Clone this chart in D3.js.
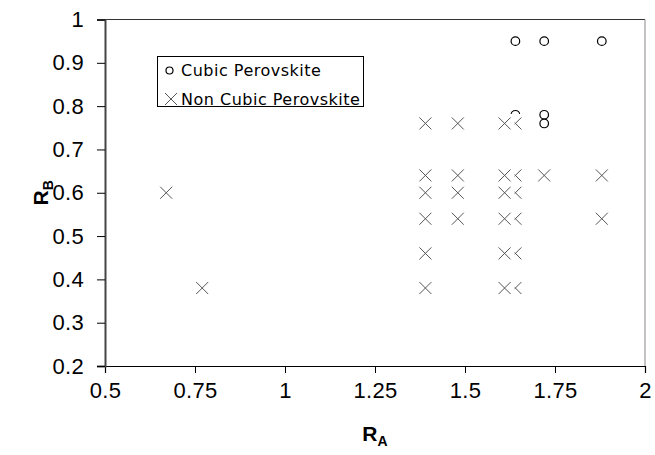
<!DOCTYPE html>
<html>
<head>
<meta charset="utf-8">
<script src="https://cdn.jsdelivr.net/npm/d3@7"></script>
<style>
  html, body { margin: 0; padding: 0; background: #fff; }
  svg { display: block; }
</style>
</head>
<body>
<svg id="chart" width="655" height="455"></svg>
<script>
// ---- Data ----
const cubicRA = [1.64, 1.72, 1.88, 1.64, 1.72, 1.72];
const cubicRB = [0.95, 0.95, 0.95, 0.78, 0.78, 0.76];

const nonCubicRA = [0.67, 0.77,
  1.64, 1.64, 1.64, 1.64, 1.64, 1.64,
  1.39, 1.39, 1.39, 1.39, 1.39, 1.39,
  1.48, 1.48, 1.48, 1.48,
  1.61, 1.61, 1.61, 1.61, 1.61, 1.61,
  1.72,
  1.88, 1.88];
const nonCubicRB = [0.60, 0.38,
  0.76, 0.64, 0.60, 0.54, 0.46, 0.38,
  0.76, 0.64, 0.60, 0.54, 0.46, 0.38,
  0.76, 0.64, 0.60, 0.54,
  0.76, 0.64, 0.60, 0.54, 0.46, 0.38,
  0.64,
  0.64, 0.54];

const xTicks = [0.5, 0.75, 1, 1.25, 1.5, 1.75, 2];
const yTicks = [0.2, 0.3, 0.4, 0.5, 0.6, 0.7, 0.8, 0.9, 1];
const seriesNames = ["Cubic Perovskite", "Non Cubic Perovskite"];

// ---- Layout ----
const svg = d3.select("#chart");
const pLeft = 105, pRight = 645, pTop = 19.5, pBottom = 366;
const x = d3.scaleLinear().domain([0.5, 2]).range([pLeft, pRight]);
const y = d3.scaleLinear().domain([0.2, 1]).range([pBottom, pTop]);

// frame (top & right)
svg.append("line").attr("x1", pLeft).attr("x2", pRight).attr("y1", pTop).attr("y2", pTop)
  .attr("stroke", "#333").attr("stroke-width", 1);
svg.append("line").attr("x1", pRight).attr("x2", pRight).attr("y1", pTop).attr("y2", pBottom)
  .attr("stroke", "#888").attr("stroke-width", 1);

// axes
const tickFont = "'Liberation Sans', Arial, sans-serif";
const xAxis = d3.axisBottom(x).tickValues(xTicks).tickSize(7).tickPadding(9)
  .tickFormat(d => String(d));
const yAxis = d3.axisLeft(y).tickValues(yTicks).tickSize(8).tickPadding(13)
  .tickFormat(d => String(+d.toFixed(1)));

const gx = svg.append("g").attr("transform", `translate(0,${pBottom})`).call(xAxis);
const gy = svg.append("g").attr("transform", `translate(${pLeft},0)`).call(yAxis);

gx.select(".domain").attr("stroke", "#000").attr("stroke-width", 1.2);
gy.select(".domain").attr("stroke", "#444").attr("stroke-width", 2);
[gx, gy].forEach(g => {
  g.selectAll(".tick line").attr("stroke", "#000").attr("stroke-width", 1);
  g.selectAll(".tick text").attr("font-family", tickFont).attr("font-size", 22)
    .attr("letter-spacing", 0.3).attr("fill", "#000");
});

// axis titles
const xt = svg.append("text").attr("x", (pLeft + pRight) / 2).attr("y", 441)
  .attr("text-anchor", "middle").attr("font-family", tickFont).attr("font-weight", "bold")
  .attr("font-size", 21).attr("fill", "#000");
xt.append("tspan").text("R");
xt.append("tspan").text("A").attr("font-size", 14).attr("dy", 5);

const yt = svg.append("text").attr("transform", `translate(48,${(pTop + pBottom) / 2}) rotate(-90)`)
  .attr("text-anchor", "middle").attr("font-family", tickFont).attr("font-weight", "bold")
  .attr("font-size", 21).attr("fill", "#000");
yt.append("tspan").text("R");
yt.append("tspan").text("B").attr("font-size", 14).attr("dy", 5);

// ---- markers ----
const crossPath = s => `M${-s},${-s}L${s},${s}M${-s},${s}L${s},${-s}`;

const cubic = cubicRA.map((v, i) => ({ a: v, b: cubicRB[i] }));
const nonCubic = nonCubicRA.map((v, i) => ({ a: v, b: nonCubicRB[i] }));

svg.append("g").selectAll("circle").data(cubic).join("circle")
  .attr("cx", d => x(d.a)).attr("cy", d => y(d.b)).attr("r", 4.3)
  .attr("fill", "#fff").attr("stroke", "#000").attr("stroke-width", 1.2);

const gc = svg.append("g").selectAll("g").data(nonCubic).join("g")
  .attr("transform", d => `translate(${x(d.a)},${y(d.b)})`);
gc.append("rect").attr("x", -10).attr("y", -9.5).attr("width", 20).attr("height", 19)
  .attr("fill", "#fff");
gc.append("path").attr("d", crossPath(6)).attr("stroke", "#555").attr("stroke-width", 1)
  .attr("fill", "none");

// ---- legend ----
const lg = svg.append("g");
lg.append("rect").attr("x", 157.5).attr("y", 56.5).attr("width", 206).attr("height", 50)
  .attr("fill", "#fff").attr("stroke", "#000").attr("stroke-width", 1);
lg.append("circle").attr("cx", 169.5).attr("cy", 70.5).attr("r", 3.5)
  .attr("fill", "#fff").attr("stroke", "#000").attr("stroke-width", 1.2);
lg.append("path").attr("transform", "translate(171,99)").attr("d", crossPath(6))
  .attr("stroke", "#555").attr("stroke-width", 1).attr("fill", "none");
lg.selectAll("text").data(seriesNames).join("text")
  .attr("x", 181).attr("y", (d, i) => 76 + i * 29)
  .attr("font-family", "'DejaVu Sans', Verdana, sans-serif").attr("font-size", 16)
  .attr("letter-spacing", 0.5).attr("fill", "#000")
  .text(d => d);
</script>
</body>
</html>
